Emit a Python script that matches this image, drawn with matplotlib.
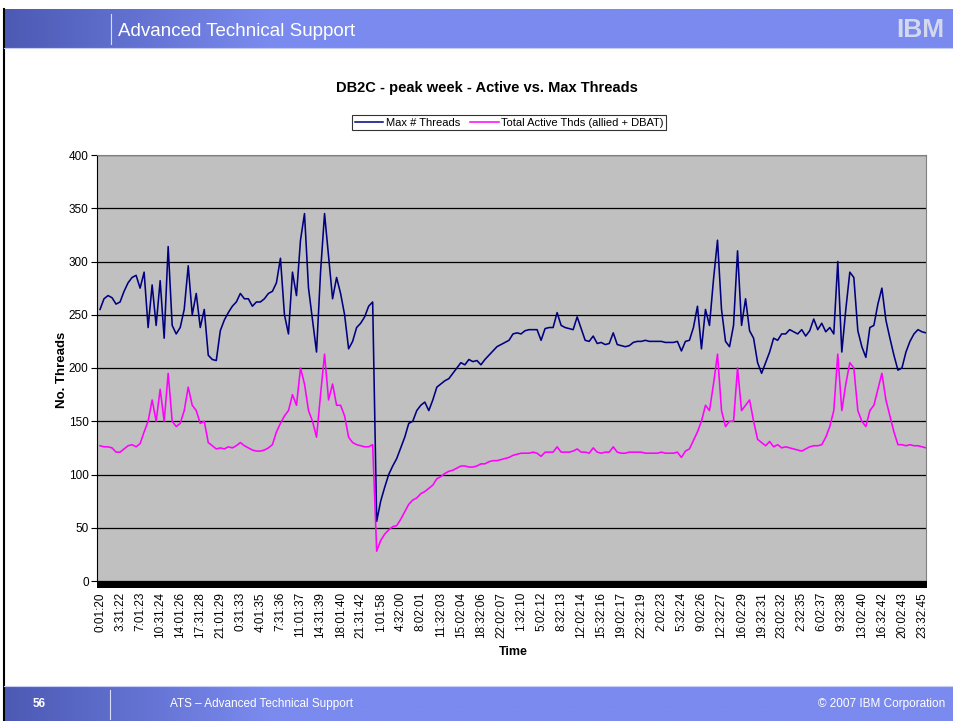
import numpy as np
import matplotlib
matplotlib.use("Agg")
import matplotlib.pyplot as plt
from matplotlib.lines import Line2D
from matplotlib.patches import Rectangle

plt.rcParams["font.family"] = ["Liberation Sans", "DejaVu Sans"]

W, H = 954, 721

# x tick labels (one every 5 samples)
time_labels = [
    "0:01:20", "3:31:22", "7:01:23", "10:31:24", "14:01:26", "17:31:28", "21:01:29",
    "0:31:33", "4:01:35", "7:31:36", "11:01:37", "14:31:39", "18:01:40", "21:31:42",
    "1:01:58", "4:32:00", "8:02:01", "11:32:03", "15:02:04", "18:32:06", "22:02:07",
    "1:32:10", "5:02:12", "8:32:13", "12:02:14", "15:32:16", "19:02:17", "22:32:19",
    "2:02:23", "5:32:24", "9:02:26", "12:32:27", "16:02:29", "19:32:31", "23:02:32",
    "2:32:35", "6:02:37", "9:32:38", "13:02:40", "16:32:42", "20:02:43", "23:32:45",
]
LABEL_STEP = 5

# Max # Threads
max_threads = [
    255, 265, 268, 266, 260, 262, 272, 280, 285, 287,
    275, 290, 238, 278, 240, 282, 228, 314, 240, 232,
    238, 255, 296, 250, 270, 238, 255, 212, 208, 207,
    235, 245, 252, 258, 262, 270, 265, 265, 258, 262,
    262, 265, 270, 272, 280, 303, 250, 232, 290, 268,
    320, 345, 275, 245, 215, 290, 345, 305, 265, 285,
    270, 250, 218, 225, 238, 242, 248, 258, 262, 56,
    75, 88, 100, 108, 115, 125, 135, 148, 150, 160,
    165, 168, 160, 170, 182, 185, 188, 190, 195, 200,
    205, 203, 208, 206, 207, 203, 208, 212, 216, 220,
    222, 224, 226, 232, 233, 232, 235, 236, 236, 236,
    226, 237, 238, 238, 252, 240, 238, 237, 236, 248,
    237, 226, 225, 230, 223, 224, 222, 223, 233, 222,
    221, 220, 221, 224, 225, 225, 226, 225, 225, 225,
    225, 224, 224, 224, 225, 216, 225, 226, 238, 258,
    218, 255, 240, 283, 320, 255, 225, 220, 240, 310,
    240, 265, 235, 228, 205, 195, 205, 215, 228, 226,
    232, 232, 236, 234, 232, 236, 230, 235, 246, 236,
    242, 234, 238, 232, 300, 215, 255, 290, 285, 235,
    220, 210, 238, 240, 260, 275, 245, 228, 212, 198,
    200, 215, 225, 232, 236, 234, 233,
]

# Total Active Thds (allied + DBAT)
active_threads = [
    127, 126, 126, 125, 121, 121, 124, 127, 128, 126,
    129, 140, 150, 170, 150, 180, 150, 195, 150, 145,
    148, 160, 182, 165, 160, 148, 150, 130, 127, 124,
    125, 124, 126, 125, 127, 130, 127, 125, 123, 122,
    122, 123, 125, 128, 140, 148, 155, 160, 175, 165,
    200, 185, 160, 150, 135, 175, 213, 170, 185, 165,
    165, 155, 135, 130, 128, 127, 126, 126, 128, 28,
    38, 44, 48, 51, 52, 58, 65, 72, 76, 78,
    82, 84, 87, 90, 96, 98, 101, 103, 104, 106,
    108, 108, 107, 107, 108, 110, 110, 112, 113, 113,
    114, 115, 116, 118, 119, 120, 120, 120, 121, 120,
    117, 121, 121, 121, 126, 121, 121, 121, 122, 124,
    121, 121, 120, 125, 121, 120, 121, 121, 126, 121,
    120, 120, 121, 121, 121, 121, 120, 120, 120, 120,
    121, 120, 120, 120, 121, 116, 122, 124, 132, 140,
    150, 165, 160, 185, 213, 160, 145, 150, 150, 200,
    160, 165, 170, 150, 133, 130, 127, 131, 126, 128,
    125, 126, 125, 124, 123, 122, 124, 126, 127, 127,
    128, 135, 145, 160, 213, 160, 185, 205, 200, 160,
    150, 145, 160, 165, 180, 195, 170, 155, 140, 128,
    128, 127, 128, 127, 127, 126, 125,
]

BAND_BLUE = "#7A8AEE"
BAND_DARK = "#4C5AB4"


def px_rect(fig, x0, y0, x1, y1, **kw):
    # rectangle in figure pixels, y measured from the top
    r = Rectangle((x0 / W, 1 - y1 / H), (x1 - x0) / W, (y1 - y0) / H,
                  transform=fig.transFigure, **kw)
    fig.add_artist(r)
    return r


def px_line(fig, x0, y0, x1, y1, **kw):
    fig.add_artist(Line2D([x0 / W, x1 / W], [1 - y0 / H, 1 - y1 / H],
                          transform=fig.transFigure, **kw))


def draw_band(fig, y0, y1):
    ax = fig.add_axes([4 / W, 1 - y1 / H, (W - 4) / W, (y1 - y0) / H])
    ax.set_axis_off()
    grad = np.clip(np.linspace(0, 1, 400) * 3.6, 0, 1)
    img = np.zeros((1, 400, 3))
    dark = np.array(matplotlib.colors.to_rgb(BAND_DARK))
    light = np.array(matplotlib.colors.to_rgb(BAND_BLUE))
    img[0] = dark[None, :] * (1 - grad[:, None]) + light[None, :] * grad[:, None]
    ax.imshow(img, aspect="auto", extent=[0, 1, 0, 1])
    ax.set_xlim(0, 1)
    ax.set_ylim(0, 1)


def main():
    fig = plt.figure(figsize=(W / 100, H / 100), dpi=100)
    fig.patch.set_facecolor("white")

    # --- slide header / footer
    draw_band(fig, 9, 48)
    draw_band(fig, 687, 721)
    px_line(fig, 4, 9, 4, 721, color="black", lw=1.5)
    px_line(fig, 4, 48, W, 48, color="#C8CEF6", lw=0.8)
    px_line(fig, 4, 686, W, 686, color="#C8CEF6", lw=0.8)
    px_line(fig, 111, 14, 111, 44, color="#D8DCF8", lw=0.8)
    px_line(fig, 110, 690, 110, 719, color="#D8DCF8", lw=0.8)
    fig.text(118 / W, 1 - 31 / H, "Advanced Technical Support", color="white",
             fontsize=13.5, va="center", ha="left")

    # striped IBM logo
    fig.text(896 / W, 1 - 30 / H, "IBM", color="#D4D8EC", fontsize=19,
             fontweight="bold", va="center", ha="left")
    for yy in range(17, 45, 3):
        px_line(fig, 890, yy, W, yy, color=BAND_BLUE, lw=0.6)

    fig.text(33 / W, 1 - 704 / H, "56", color="white", fontsize=8.5,
             fontweight="bold", va="center", ha="left")
    fig.text(170 / W, 1 - 704 / H, "ATS \u2013 Advanced Technical Support", color="white",
             fontsize=8.5, va="center", ha="left")
    fig.text(945 / W, 1 - 704 / H, "\u00a9 2007 IBM Corporation", color="white",
             fontsize=8.5, va="center", ha="right")

    # --- chart
    ax = fig.add_axes([97 / W, 1 - 581 / H, (926 - 97) / W, (581 - 155) / H])
    ax.set_facecolor("#C0C0C0")

    idx = np.arange(len(max_threads))
    ax.plot(idx, max_threads, color="#000080", lw=1.15)
    ax.plot(idx, active_threads, color="#FF00FF", lw=1.15)

    ax.set_xlim(-0.75, 206.0)
    ax.set_ylim(0, 400)
    ax.set_yticks(np.arange(0, 401, 50))
    ax.grid(axis="y", color="black", lw=0.9)
    ax.set_axisbelow(True)

    ax.set_xticks(np.arange(len(time_labels)) * LABEL_STEP)
    ax.set_xticklabels(time_labels, rotation=90, fontsize=8.5)
    ax.tick_params(axis="x", length=0, pad=8)
    ax.tick_params(axis="y", direction="out", length=4.5, width=0.8, labelsize=8.5, pad=1.5)

    for side in ["top", "right"]:
        ax.spines[side].set_color("#808080")
    ax.spines["left"].set_color("black")
    ax.spines["bottom"].set_visible(False)

    # heavy category axis band
    px_rect(fig, 97, 581, 927, 588, facecolor="black", edgecolor="none")

    fig.text(62 / W, 1 - 370 / H, "No. Threads", fontsize=9.5, fontweight="bold",
             rotation=90, ha="center", va="center")
    fig.text(513 / W, 1 - 652 / H, "Time", fontsize=9, fontweight="bold",
             ha="center", va="center")
    fig.text(487 / W, 1 - 88 / H, "DB2C - peak week - Active vs. Max Threads",
             fontsize=10.5, fontweight="bold", ha="center", va="center")

    handles = [
        Line2D([], [], color="#000080", lw=1.1),
        Line2D([], [], color="#FF00FF", lw=1.1),
    ]
    leg = fig.legend(handles, ["Max # Threads", "Total Active Thds (allied + DBAT)"],
                     loc="center", bbox_to_anchor=(509 / W, 1 - 122.5 / H), ncol=2,
                     fontsize=8, frameon=True, fancybox=False, handlelength=2.6,
                     handletextpad=0.2, columnspacing=0.9, borderpad=0.25)
    leg.get_frame().set_edgecolor("black")
    leg.get_frame().set_linewidth(0.8)

    fig.savefig("out.png", dpi=100, facecolor="white")
    plt.close(fig)


if __name__ == "__main__":
    main()
